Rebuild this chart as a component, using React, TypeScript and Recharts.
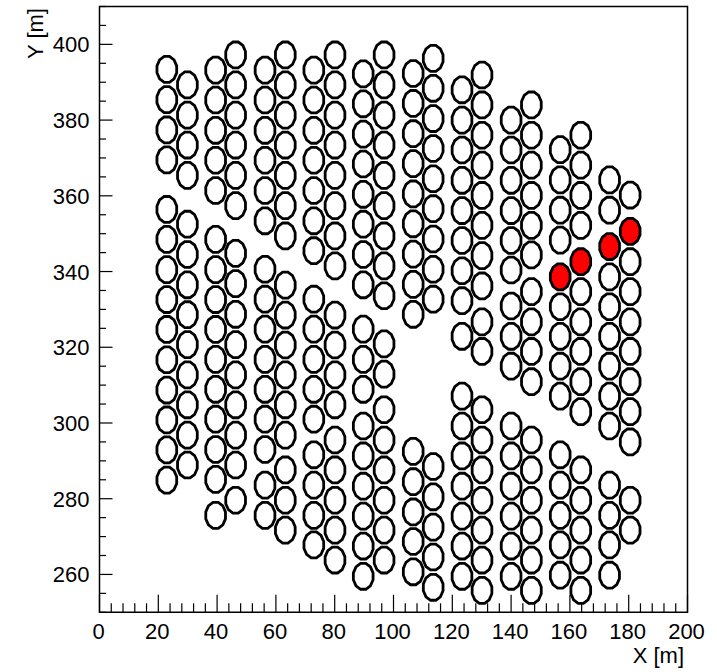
import React from 'react';
import { ScatterChart, Scatter, XAxis, YAxis, ReferenceArea } from 'recharts';

// column positions (X [m]) of the tank rows, left to right
const colX = [22.9, 29.9, 39.5, 46.3, 56.3, 63.2, 72.9, 80.1, 89.7, 96.8, 106.7, 113.5, 123.3, 130.1, 140.0, 146.9, 156.7, 163.7, 173.5, 180.5];

// Y [m] of every open tank in each column
const col01Y = [393.4, 385.4, 377.4, 369.5, 356.4, 348.5, 340.5, 332.6, 324.7, 316.7, 308.7, 300.8, 292.9, 284.9];
const col02Y = [389.3, 381.3, 373.4, 365.4, 352.5, 344.5, 336.5, 328.6, 320.7, 312.7, 304.8, 296.8, 288.9];
const col03Y = [393.2, 385.3, 377.3, 369.4, 361.4, 348.5, 340.5, 332.6, 324.7, 316.8, 308.9, 301.0, 293.0, 285.1, 275.6];
const col04Y = [397.2, 389.3, 381.3, 373.4, 365.4, 357.4, 344.8, 336.8, 328.7, 320.7, 312.7, 304.8, 296.8, 288.9, 279.6];
const col05Y = [393.2, 385.3, 377.3, 369.4, 361.4, 353.4, 340.6, 332.7, 324.8, 316.8, 308.9, 301.0, 293.0, 283.6, 275.6];
const col06Y = [397.2, 389.3, 381.3, 373.4, 365.4, 357.4, 349.4, 336.4, 328.5, 320.6, 312.7, 304.8, 296.8, 287.6, 279.6, 271.7];
const col07Y = [393.2, 385.3, 377.3, 369.4, 361.4, 353.4, 345.5, 332.7, 324.8, 316.8, 308.9, 301.0, 291.6, 283.6, 275.6, 267.8];
const col08Y = [397.2, 389.3, 381.3, 373.4, 365.4, 357.4, 349.4, 341.5, 328.5, 320.6, 312.7, 304.8, 295.5, 287.6, 279.6, 271.7, 263.8];
const col09Y = [392.2, 384.3, 376.3, 368.4, 360.4, 352.5, 344.5, 336.5, 324.8, 316.8, 308.9, 299.2, 291.3, 283.3, 275.4, 267.5, 259.5];
const col10Y = [397.2, 389.3, 381.3, 373.4, 365.4, 357.4, 349.4, 341.5, 333.6, 320.9, 312.9, 303.5, 295.5, 287.6, 279.6, 271.7, 263.8];
const col11Y = [392.3, 384.4, 376.4, 368.5, 360.5, 352.6, 344.6, 336.6, 328.7, 292.5, 284.5, 276.5, 268.7, 260.7];
const col12Y = [396.3, 388.4, 380.4, 372.5, 364.5, 356.6, 348.6, 340.6, 332.7, 288.5, 280.5, 272.5, 264.6, 256.6];
const col13Y = [388.0, 380.0, 372.1, 364.1, 356.1, 348.2, 340.2, 332.3, 322.9, 307.1, 299.2, 291.3, 283.3, 275.4, 267.5, 259.5];
const col14Y = [391.9, 384.0, 376.0, 368.1, 360.1, 352.2, 344.2, 336.2, 326.7, 318.9, 303.5, 295.5, 287.6, 279.6, 271.7, 263.8, 255.8];
const col15Y = [380.0, 372.1, 364.1, 356.1, 348.2, 340.4, 330.9, 322.9, 315.0, 299.2, 291.3, 283.3, 275.4, 267.5, 259.5];
const col16Y = [384.0, 376.0, 368.1, 360.1, 352.2, 344.4, 334.7, 326.7, 318.9, 310.9, 295.5, 287.6, 279.6, 271.7, 263.8, 255.8];
const col17Y = [372.2, 364.2, 356.2, 348.3, 330.7, 322.9, 315.0, 307.1, 291.6, 283.6, 275.6, 267.8, 259.8];
const col18Y = [376.0, 368.1, 360.1, 352.2, 334.7, 326.7, 318.9, 310.9, 303.0, 287.6, 279.6, 271.7, 263.8, 255.8];
const col19Y = [364.2, 356.2, 338.6, 330.7, 322.9, 315.0, 307.1, 299.2, 283.6, 275.6, 267.8, 259.8];
const col20Y = [360.2, 342.6, 334.7, 326.7, 318.9, 310.9, 303.0, 295.0, 279.6, 271.7];

// the four highlighted (red) tanks
const redX = [156.7, 163.7, 173.5, 180.5];
const redY = [338.6, 342.6, 346.6, 350.6];

const xTickValues = [0, 4, 8, 12, 16, 20, 24, 28, 32, 36, 40, 44, 48, 52, 56, 60, 64, 68, 72, 76, 80, 84, 88, 92, 96, 100,
  104, 108, 112, 116, 120, 124, 128, 132, 136, 140, 144, 148, 152, 156, 160, 164, 168, 172, 176, 180, 184, 188, 192, 196, 200];
const xLabels = [0, 20, 40, 60, 80, 100, 120, 140, 160, 180, 200];
const yTickValues = [250, 255, 260, 265, 270, 275, 280, 285, 290, 295, 300, 305, 310, 315, 320, 325, 330, 335, 340, 345,
  350, 355, 360, 365, 370, 375, 380, 385, 390, 395, 400, 405, 410];
const yLabels = [260, 280, 300, 320, 340, 360, 380, 400];

const allCols = [col01Y, col02Y, col03Y, col04Y, col05Y, col06Y, col07Y, col08Y, col09Y, col10Y,
  col11Y, col12Y, col13Y, col14Y, col15Y, col16Y, col17Y, col18Y, col19Y, col20Y];

const tanks = allCols.flatMap((ys, i) => ys.map(y => ({ x: colX[i], y })));
const redTanks = redX.map((x, i) => ({ x, y: redY[i] }));

const FONT = '"Liberation Sans", Arial, Helvetica, sans-serif';

// 12-sided marker, flat on top and on the sides
const Tank = (props: any) => {
  const { cx, cy, fill } = props;
  if (cx == null || cy == null) return null;
  const rx = 10.2;
  const ry = 13.4;
  const pts = Array.from({ length: 12 }, (_, k) => {
    const a = ((15 + 30 * k) * Math.PI) / 180;
    return `${(cx + rx * Math.cos(a)).toFixed(2)},${(cy + ry * Math.sin(a)).toFixed(2)}`;
  }).join(' ');
  return <polygon points={pts} fill={fill} stroke="#000" strokeWidth={2.8} />;
};

const XTick = (props: any) => {
  const { x, y, payload } = props;
  const major = xLabels.includes(payload.value);
  return (
    <g>
      <line x1={x} y1={y} x2={x} y2={y - (major ? 17.5 : 9)} stroke="#000" strokeWidth={1.2} />
      {major && (
        <text x={x - 1} y={y + 26.5} textAnchor="middle" fontSize={22} fontFamily={FONT} fill="#000">
          {payload.value}
        </text>
      )}
    </g>
  );
};

const YTick = (props: any) => {
  const { x, y, payload } = props;
  const major = yLabels.includes(payload.value);
  return (
    <g>
      <line x1={x} y1={y} x2={x + (major ? 13 : 6.5)} y2={y} stroke="#000" strokeWidth={1.2} />
      {major && (
        <text x={x - 10} y={y + 8} textAnchor="end" fontSize={22} fontFamily={FONT} fill="#000">
          {payload.value}
        </text>
      )}
    </g>
  );
};

export default function App() {
  return (
    <div style={{ position: 'absolute', left: 0, top: 0, width: 717, height: 672, background: '#fff' }}>
      <ScatterChart width={717} height={672} margin={{ top: 6.5, right: 29.5, left: 39.5, bottom: 29.7 }}>
        <XAxis
          type="number"
          dataKey="x"
          domain={[0, 200]}
          ticks={xTickValues}
          interval={0}
          tick={<XTick />}
          tickLine={false}
          axisLine={false}
          tickSize={0}
          tickMargin={0}
          height={30}
        />
        <YAxis
          type="number"
          dataKey="y"
          domain={[250, 410]}
          ticks={yTickValues}
          interval={0}
          tick={<YTick />}
          tickLine={false}
          axisLine={false}
          tickSize={0}
          tickMargin={0}
          width={60}
        />
        <ReferenceArea x1={0} x2={200} y1={250} y2={410} fill="none" fillOpacity={0} stroke="#000" strokeWidth={1.5} />
        <Scatter data={tanks} fill="none" shape={(p: any) => <Tank {...p} fill="none" />} isAnimationActive={false} />
        <Scatter data={redTanks} fill="#ff0000" shape={(p: any) => <Tank {...p} fill="#ff0000" />} isAnimationActive={false} />
      </ScatterChart>
      <svg width={717} height={672} style={{ position: 'absolute', left: 0, top: 0, pointerEvents: 'none' }}>
        <text x={684} y={663} textAnchor="end" fontSize={22} fontFamily={FONT} fill="#000">X [m]</text>
        <text transform="translate(43,8) rotate(-90)" textAnchor="end" fontSize={22} fontFamily={FONT} fill="#000">Y [m]</text>
      </svg>
    </div>
  );
}
